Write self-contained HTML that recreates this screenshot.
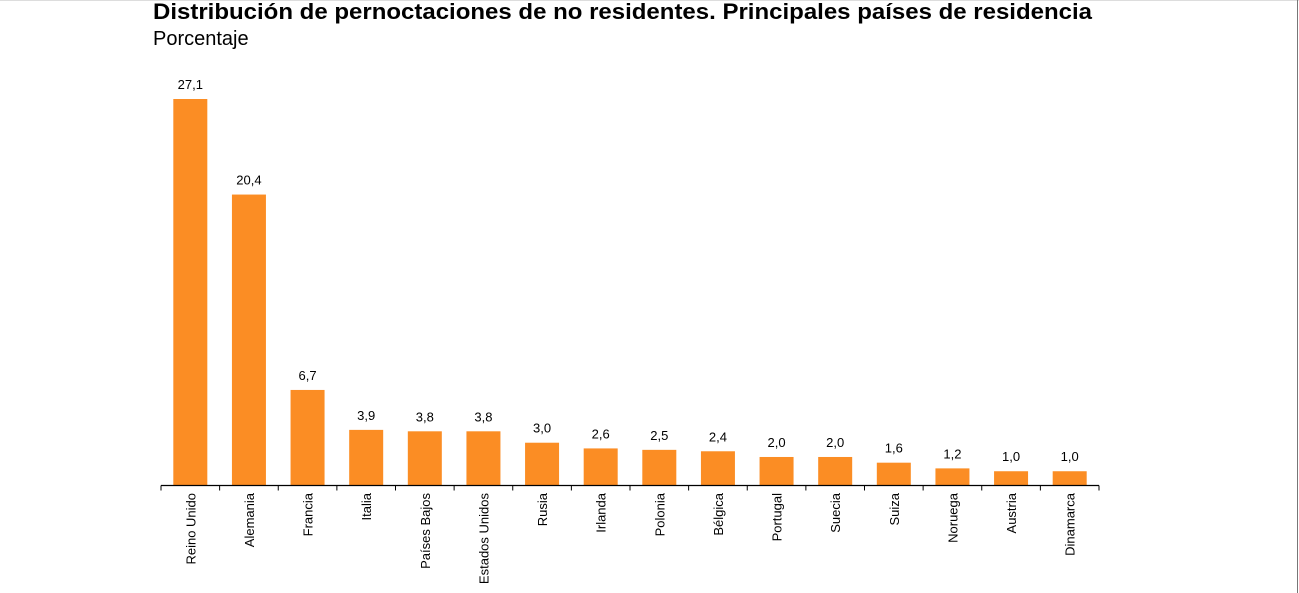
<!DOCTYPE html>
<html><head><meta charset="utf-8"><style>
body{margin:0;background:#fff;}
svg{display:block;font-family:"Liberation Sans",Arial,sans-serif;}
</style></head><body>
<svg id="chart" width="1299" height="593">
<line x1="0" y1="0.5" x2="1299" y2="0.5" stroke="#ddd"/>
<line x1="1297.5" y1="0" x2="1297.5" y2="593" stroke="#777"/>
<text x="153" y="19" font-size="22" font-weight="bold" fill="#000" textLength="939" lengthAdjust="spacingAndGlyphs">Distribución de pernoctaciones de no residentes. Principales países de residencia</text>
<text x="153" y="45" font-size="20" fill="#000">Porcentaje</text>
<g id="plot"></g>
</svg>
<script>
const categories=["Reino Unido","Alemania","Francia","Italia","Países Bajos","Estados Unidos","Rusia","Irlanda","Polonia","Bélgica","Portugal","Suecia","Suiza","Noruega","Austria","Dinamarca"];
const values=[27.1,20.4,6.7,3.9,3.8,3.8,3.0,2.6,2.5,2.4,2.0,2.0,1.6,1.2,1.0,1.0];
const valueLabels=["27,1","20,4","6,7","3,9","3,8","3,8","3,0","2,6","2,5","2,4","2,0","2,0","1,6","1,2","1,0","1,0"];
const NS="http://www.w3.org/2000/svg";
const plotG=document.getElementById('plot');
const x0=161,x1=1099,base=485.5,yTop=99,step=(x1-x0)/categories.length;
const yScale=v=>base-(base-yTop)*v/27.1;
const xc=i=>x0+step*(i+0.5);
function mk(t,a){const e=document.createElementNS(NS,t);for(const k in a)e.setAttribute(k,a[k]);plotG.appendChild(e);return e;}
categories.forEach((c,i)=>{
 const r=mk('rect',{x:xc(i)-17,y:yScale(values[i]),width:34,height:base-yScale(values[i]),fill:'#FB8D24'});
 
 
 const t=mk('text',{x:xc(i),y:yScale(values[i])-10,'font-size':13,'text-anchor':'middle',fill:'#000'});
 t.textContent=valueLabels[i];
 
 
 const l=mk('text',{transform:`translate(${xc(i)+5},493) rotate(-90)`,'font-size':13,'text-anchor':'end',fill:'#000'});
 l.textContent=c;
 
 
});
for(let i=0;i<=categories.length;i++){
 const tk=mk('line',{x1:x0+step*i,x2:x0+step*i,y1:base,y2:base+5,stroke:'#000'});
 
 
}
const ax=mk('line',{x1:x0,x2:x1,y1:base,y2:base,stroke:'#000','stroke-width':1.2});


</script>
</body></html>
